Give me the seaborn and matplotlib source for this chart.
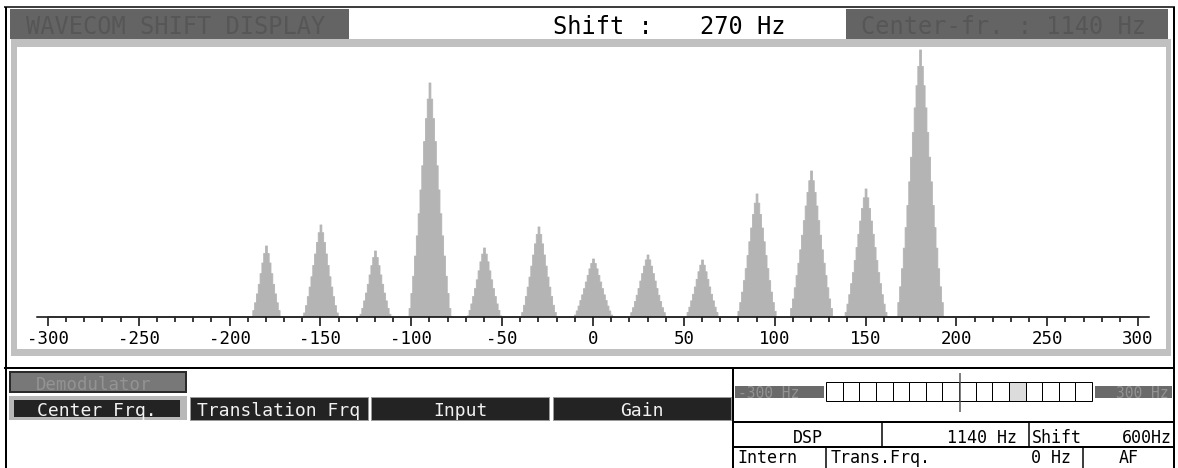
import numpy as np
import pandas as pd
import matplotlib
matplotlib.use("Agg")
import matplotlib.pyplot as plt
from matplotlib.patches import Rectangle
import seaborn as sns

# ---------------- data ----------------
peak_freqs = [-180, -150, -120, -90, -60, -30, 0, 30, 60, 90, 120, 150, 180]
peak_heights = [71, 92, 66, 234, 69, 90, 58, 62, 57, 123, 146, 128, 267]
peak_halfwidths = [8.0, 9.6, 8.5, 11.6, 9.2, 9.7, 10.5, 10.0, 9.0, 10.7, 12.0, 11.6, 13.0]
# normalised peak profile (relative offset from centre -> relative height)
profile_u = [0.0, 0.1, 0.2, 0.3, 0.4, 0.5, 0.6, 0.7, 0.8, 0.9, 1.0]
profile_p = [1.0, 0.92, 0.82, 0.70, 0.58, 0.46, 0.35, 0.25, 0.15, 0.07, 0.0]
freq_bins = np.arange(-300, 301, 1)
x_ticks = list(range(-300, 301, 50))
x_minor_ticks = list(range(-300, 301, 10))

title_left = "WAVECOM SHIFT DISPLAY"
shift_label = "Shift :"
shift_value = "270 Hz"
center_label = "Center-fr. : 1140 Hz"
demod_label = "Demodulator"
button_labels = ["Center Frq.", "Translation Frq", "Input", "Gain"]
scale_left = "-300 Hz"
scale_right = "300 Hz"
n_cells = 16
highlight_cell = 11
row1 = ["DSP", "1140 Hz", "Shift", "600Hz"]
row2 = ["Intern", "Trans.Frq.", "0 Hz", "AF"]

# ---------------- build spectrum from the read values ----------------
amp = np.zeros(len(freq_bins), dtype=float)
for c, h, w in zip(peak_freqs, peak_heights, peak_halfwidths):
    rel = np.abs(freq_bins - c) / w
    amp = np.maximum(amp, h * np.interp(rel, profile_u, profile_p, right=0.0))
df = pd.DataFrame({"freq": freq_bins, "amp": amp})

# ---------------- figure ----------------
sns.set_theme(style="white")
plt.rcParams["font.family"] = ["DejaVu Sans Mono", "DejaVu Sans"]
plt.rcParams["axes.unicode_minus"] = False

W, H = 1178, 468
fig = plt.figure(figsize=(W / 100, H / 100), dpi=100)
fig.patch.set_facecolor("white")

PX = 0.72  # points per pixel

# overlay axes in pixel coordinates
bg = fig.add_axes([0, 0, 1, 1], zorder=0)
bg.set_xlim(0, W)
bg.set_ylim(H, 0)
bg.axis("off")


def rect(x0, y0, x1, y1, fc="none", ec="none", lw=0):
    bg.add_patch(Rectangle((x0, y0), x1 - x0, y1 - y0, facecolor=fc,
                           edgecolor=ec, linewidth=lw * PX))


def line(x0, y0, x1, y1, lw=1.5, color="black"):
    bg.plot([x0, x1], [y0, y1], color=color, linewidth=lw * PX,
            solid_capstyle="butt")


def txt(x, y, s, size, color="black", ha="left", va="center_baseline"):
    bg.text(x, y, s, fontsize=size, color=color, ha=ha, va=va,
            family="DejaVu Sans Mono")


# outer border
line(4, 7, 1175, 7, lw=1.5)
line(5.5, 7, 5.5, H, lw=2)
line(1173.5, 7, 1173.5, H, lw=2)

# header
rect(10, 9, 349, 39, fc="#646464")
txt(26, 25, title_left, 17, color="#565656")
txt(553, 25, shift_label, 17)
txt(700, 25, shift_value, 17)
rect(846, 9, 1168, 39, fc="#646464")
txt(861, 25, center_label, 17, color="#565656")

# plot frame
rect(11, 39, 1171, 356, fc="#c0c0c0")
rect(17, 47, 1166, 349, fc="white")

# separator
line(4, 367.5, 1175, 367.5, lw=2)

# demodulator box
rect(10, 372, 186, 392, fc="#787878", ec="#2a2a2a", lw=2)
txt(36, 383, demod_label, 12.5, color="#939393")

# buttons
rect(8.5, 396, 187, 420, fc="#b8b8b8")
rect(14, 400, 180, 417, fc="#232323")
btn_spans = [(14, 180), (190, 368), (371, 549), (553, 731)]
for i, (lab, (x0, x1)) in enumerate(zip(button_labels, btn_spans)):
    if i > 0:
        rect(x0, 397, x1, 420, fc="#232323", ec="#9a9a9a", lw=1)
    txt((x0 + x1) / 2, 409, lab, 13, color="#f2f2f2", ha="center")

# right panel
line(733, 367.5, 733, H, lw=2)
rect(735, 386, 824, 398, fc="#6a6a6a")
txt(738, 392.5, scale_left, 10.5, color="#939393")
rect(1095, 386, 1172, 398, fc="#6a6a6a")
txt(1169, 392.5, scale_right, 10.5, color="#939393", ha="right")
cx0, cx1 = 826, 1092
cw = (cx1 - cx0) / n_cells
for k in range(n_cells):
    rect(cx0 + k * cw, 382, cx0 + (k + 1) * cw, 401,
         fc="#dcdcdc" if k == highlight_cell else "white", ec="black", lw=1)
line((cx0 + cx1) / 2 + 1, 373, (cx0 + cx1) / 2 + 1, 412, lw=1.5, color="#555555")

# table
line(733, 422, 1175, 422, lw=2)
line(733, 447, 1175, 447, lw=2)
line(882, 422, 882, 447, lw=1.5)
line(1029, 422, 1029, 447, lw=1.5)
line(826, 447, 826, H, lw=1.5)
line(1083, 447, 1083, H, lw=1.5)
txt(808, 436, row1[0], 12, ha="center")
txt(1017, 436, row1[1], 12, ha="right")
txt(1032, 436, row1[2], 12)
txt(1172, 436, row1[3], 12, ha="right")
txt(737, 463, row2[0], 12, va="baseline")
txt(831, 463, row2[1], 12, va="baseline")
txt(1071, 463, row2[2], 12, ha="right", va="baseline")
txt(1129, 463, row2[3], 12, ha="center", va="baseline")

# ---------------- spectrum axes ----------------
ax_left, ax_right = 37 / W, 1149 / W
ax_bottom, ax_top = (H - 316.5) / H, (H - 47.5) / H
ax = fig.add_axes([ax_left, ax_bottom, ax_right - ax_left, ax_top - ax_bottom],
                  zorder=2)
ax.set_facecolor("none")
sns.histplot(data=df, x="freq", weights="amp", discrete=True,
             element="step", fill=True, color="#b4b4b4", alpha=1,
             edgecolor="#b4b4b4", linewidth=0.6, ax=ax)
ax.set_xlim(-306, 306)
ax.set_ylim(0, 269)
ax.set_xlabel("")
ax.set_ylabel("")
ax.set_yticks([])
for s in ["top", "left", "right"]:
    ax.spines[s].set_visible(False)
ax.spines["bottom"].set_color("black")
ax.spines["bottom"].set_linewidth(1.5 * PX)
ax.spines["bottom"].set_zorder(5)
ax.set_xticks(x_ticks)
ax.set_xticks(x_minor_ticks, minor=True)
ax.set_xticklabels([str(t) for t in x_ticks])
ax.tick_params(axis="x", which="major", direction="out", length=9 * PX,
               width=1.5 * PX, color="black", pad=3, labelsize=12.5,
               labelcolor="black", bottom=True)
ax.tick_params(axis="x", which="minor", direction="out", length=5 * PX,
               width=1.5 * PX, color="black", bottom=True)

fig.savefig("out.png", dpi=100, facecolor="white")
